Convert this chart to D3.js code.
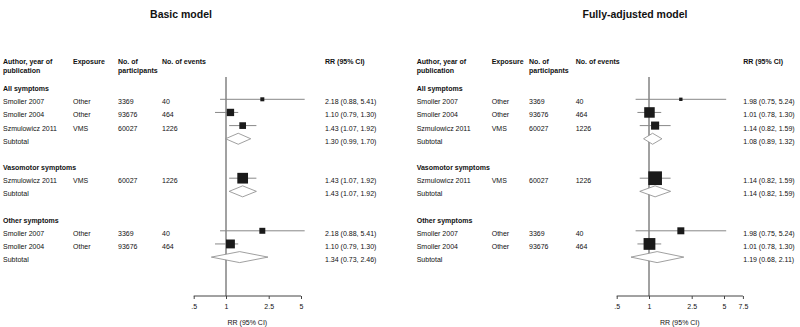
<!DOCTYPE html>
<html>
<head>
<meta charset="utf-8">
<script src="https://cdn.jsdelivr.net/npm/d3@7"></script>
<style>
  body { margin: 0; background: #fff; }
  text { font-family: "Liberation Sans", Arial, sans-serif; fill: #111; }
</style>
</head>
<body>
<svg class="chart"></svg>
<script>
// groups and study rows
var groups = ["All symptoms", "Vasomotor symptoms", "Other symptoms"];
var rowGroup = [0, 0, 0, 1, 2, 2];
var rowStudy = ["Smoller 2007", "Smoller 2004", "Szmulowicz 2011", "Szmulowicz 2011", "Smoller 2007", "Smoller 2004"];
var rowExposure = ["Other", "Other", "VMS", "VMS", "Other", "Other"];
var rowParticipants = ["3369", "93676", "60027", "60027", "3369", "93676"];
var rowEvents = ["40", "464", "1226", "1226", "40", "464"];

// basic model
var basicRR = [2.18, 1.10, 1.43, 1.43, 2.18, 1.10];
var basicLo = [0.88, 0.79, 1.07, 1.07, 0.88, 0.79];
var basicHi = [5.41, 1.30, 1.92, 1.92, 5.41, 1.30];
var basicWeight = [14, 47, 39, 100, 31, 69];
var basicSubRR = [1.30, 1.43, 1.34];
var basicSubLo = [0.99, 1.07, 0.73];
var basicSubHi = [1.70, 1.92, 2.46];
var basicTicks = [0.5, 1, 2.5, 5];

// fully-adjusted model
var adjRR = [1.98, 1.01, 1.14, 1.14, 1.98, 1.01];
var adjLo = [0.75, 0.78, 0.82, 0.82, 0.75, 0.78];
var adjHi = [5.24, 1.30, 1.59, 1.59, 5.24, 1.30];
var adjWeight = [6, 59, 35, 100, 26, 74];
var adjSubRR = [1.08, 1.14, 1.19];
var adjSubLo = [0.89, 0.82, 0.68];
var adjSubHi = [1.32, 1.59, 2.11];
var adjTicks = [0.5, 1, 2.5, 5, 7.5];

(function () {
    'use strict';
    var width = 800, height = 327;
    var svg = d3.select(".chart").attr("width", width).attr("height", height);

    var fmt = d3.format(".2f");
    function ciText(rr, lo, hi) { return fmt(rr) + " (" + fmt(lo) + ", " + fmt(hi) + ")"; }

    // line layout: heading, studies, subtotal, blank for each group
    var lines = [];
    groups.forEach(function (g, gi) {
        lines.push({type: "heading", group: gi});
        rowGroup.forEach(function (rg, ri) {
            if (rg === gi) lines.push({type: "study", row: ri});
        });
        lines.push({type: "subtotal", group: gi});
        lines.push({type: "blank"});
    });
    var y = d3.scaleLinear().domain([0, 1]).range([86.15, 99.3]);
    var axisY = 296;

    var panels = [
        {title: "Basic model", titleX: 181, cols: [3, 73, 118, 162, 325], rr: basicRR, lo: basicLo, hi: basicHi,
         w: basicWeight, sRR: basicSubRR, sLo: basicSubLo, sHi: basicSubHi, ticks: basicTicks,
         x: d3.scaleLog().domain([0.5, 5]).range([193.7, 301]), box: 10.7},
        {title: "Fully-adjusted model", titleX: 635, cols: [416.7, 491.7, 529, 575.7, 743.3], rr: adjRR, lo: adjLo, hi: adjHi,
         w: adjWeight, sRR: adjSubRR, sLo: adjSubLo, sHi: adjSubHi, ticks: adjTicks,
         x: d3.scaleLog().domain([0.5, 7.5]).range([616.7, 742.9]), box: 13.7}
    ];

    panels.forEach(function (p) {
        var g = svg.append("g");
        var c = p.cols;

        g.append("text").attr("x", p.titleX).attr("y", 17.7).attr("text-anchor", "middle")
            .style("font-size", "10.5px").style("font-weight", "bold").text(p.title);

        // column headers
        var hdr = g.append("g").style("font-size", "7px").style("font-weight", "bold");
        hdr.append("text").attr("x", c[0]).attr("y", 63.5).text("Author, year of");
        hdr.append("text").attr("x", c[0]).attr("y", 73.2).text("publication");
        hdr.append("text").attr("x", c[1]).attr("y", 63.5).text("Exposure");
        hdr.append("text").attr("x", c[2]).attr("y", 63.5).text("No. of");
        hdr.append("text").attr("x", c[2]).attr("y", 73.2).text("participants");
        hdr.append("text").attr("x", c[3]).attr("y", 63.5).text("No. of events");
        hdr.append("text").attr("x", c[4]).attr("y", 63.5).text("RR (95% CI)");

        var size = d3.scaleSqrt().domain([0, 100]).range([0, p.box]);
        var x = p.x;

        // null line
        g.append("line").attr("x1", x(1)).attr("x2", x(1)).attr("y1", 77).attr("y2", axisY)
            .attr("stroke", "#444").attr("stroke-width", 1);

        lines.forEach(function (ln, li) {
            var yy = y(li);
            var ty = yy + 5;
            if (ln.type === "heading") {
                g.append("text").attr("x", c[0]).attr("y", ty).style("font-size", "7px")
                    .style("font-weight", "bold").text(groups[ln.group]);
            } else if (ln.type === "study") {
                var r = ln.row;
                var t = g.append("g").style("font-size", "7px");
                t.append("text").attr("x", c[0]).attr("y", ty).text(rowStudy[r]);
                t.append("text").attr("x", c[1]).attr("y", ty).text(rowExposure[r]);
                t.append("text").attr("x", c[2]).attr("y", ty).text(rowParticipants[r]);
                t.append("text").attr("x", c[3]).attr("y", ty).text(rowEvents[r]);
                t.append("text").attr("x", c[4]).attr("y", ty).text(ciText(p.rr[r], p.lo[r], p.hi[r]));
                g.append("line").attr("x1", x(p.lo[r])).attr("x2", x(p.hi[r])).attr("y1", yy).attr("y2", yy)
                    .attr("stroke", "#888").attr("stroke-width", 1);
                var s = size(p.w[r]);
                g.append("rect").attr("x", x(p.rr[r]) - s / 2).attr("y", yy - s / 2)
                    .attr("width", s).attr("height", s).attr("fill", "#1a1a1a");
            } else if (ln.type === "subtotal") {
                var k = ln.group;
                g.append("text").attr("x", c[0]).attr("y", ty).style("font-size", "7px").text("Subtotal");
                g.append("text").attr("x", c[4]).attr("y", ty).style("font-size", "7px")
                    .text(ciText(p.sRR[k], p.sLo[k], p.sHi[k]));
                var pts = [[x(p.sLo[k]), yy], [x(p.sRR[k]), yy - 5.5], [x(p.sHi[k]), yy], [x(p.sRR[k]), yy + 5.5]];
                g.append("path").attr("d", d3.line()(pts) + "Z")
                    .attr("fill", "#fff").attr("stroke", "#888").attr("stroke-width", 0.8);
            }
        });

        // axis
        var axis = d3.axisBottom(x).tickValues(p.ticks).tickSize(3)
            .tickFormat(function (d) { return String(d).replace(/^0\./, "."); });
        var ag = g.append("g").attr("transform", "translate(0," + axisY + ")").call(axis);
        ag.select(".domain").attr("stroke", "#444").attr("d", "M" + x(p.ticks[0]) + ",0H" + x(p.ticks[p.ticks.length - 1]));
        ag.selectAll(".tick line").attr("stroke", "#444");
        ag.selectAll(".tick text").attr("dy", null).attr("y", 12.5)
            .style("font-size", "7px").style("font-family", "Liberation Sans, Arial, sans-serif").attr("fill", "#111");

        var r0 = x.range();
        g.append("text").attr("x", (r0[0] + r0[1]) / 2).attr("y", 324.5).attr("text-anchor", "middle")
            .style("font-size", "7px").text("RR (95% CI)");
    });
})();
</script>
</body>
</html>
